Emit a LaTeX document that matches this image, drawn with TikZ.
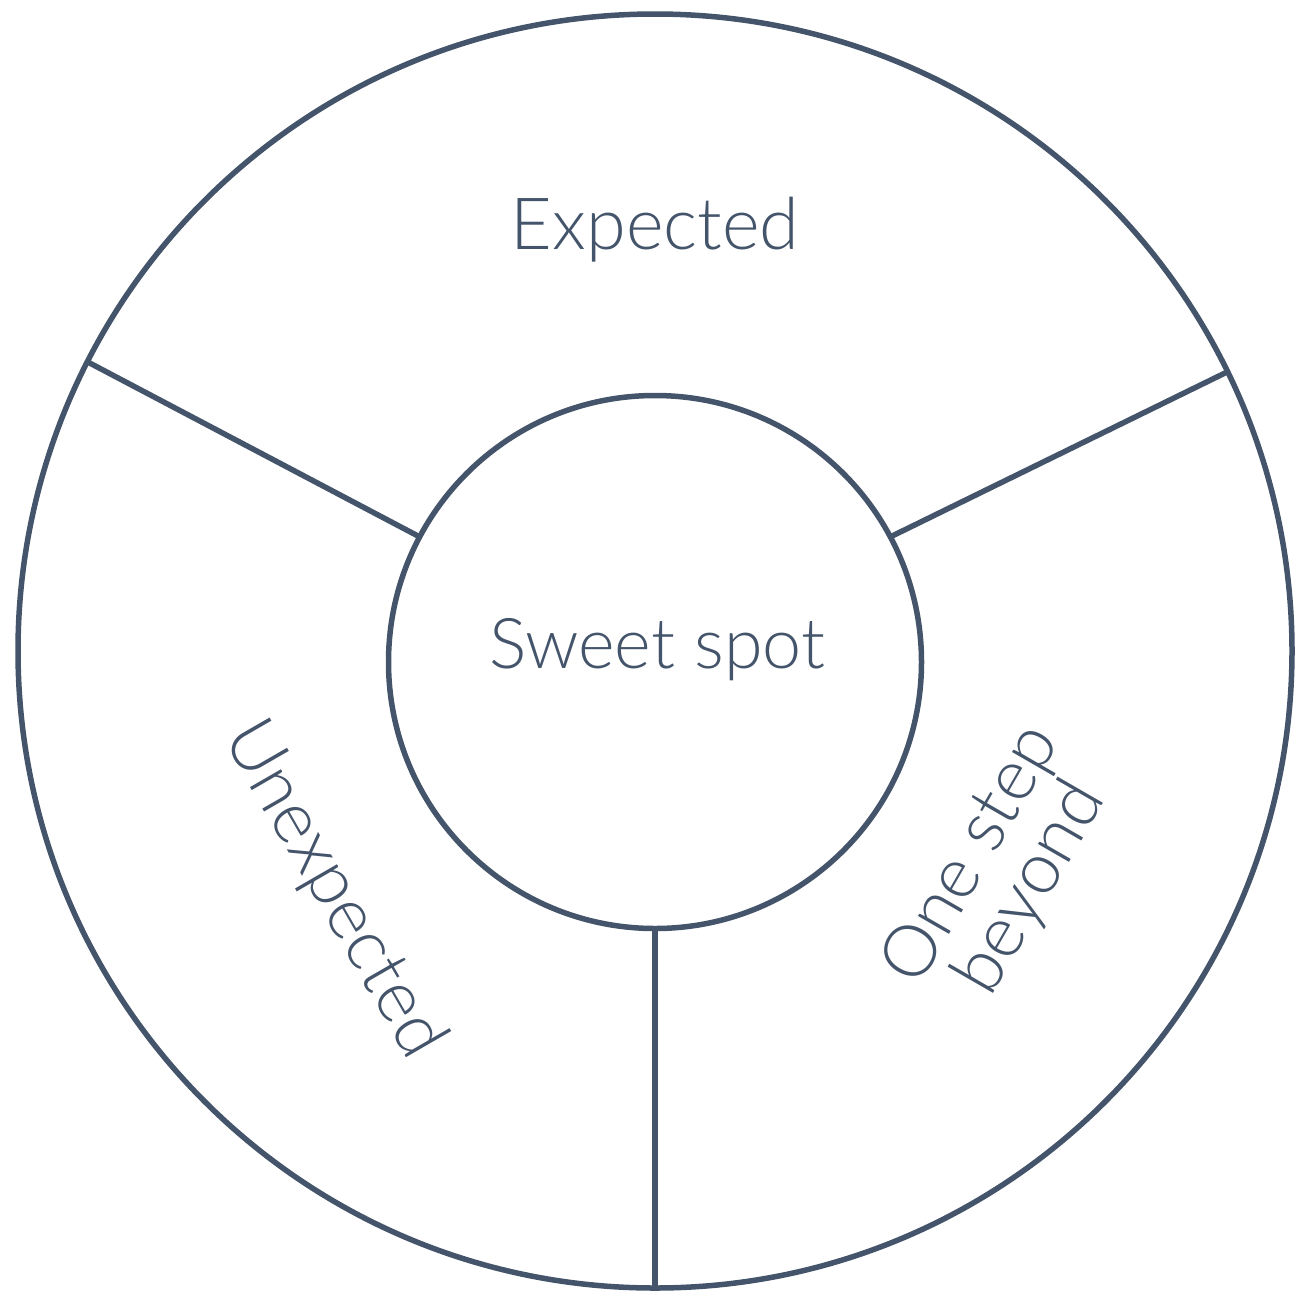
\documentclass[tikz,border=0pt]{standalone}
\usepackage{fontspec}
\setmainfont{Lato}[UprightFont=* Light]
\definecolor{ink}{RGB}{68,84,106}
\begin{document}
\begin{tikzpicture}[x=1pt,y=-1pt,
  ring/.style={circle,draw=ink,line width=5.5pt,inner sep=0pt,outer sep=0pt},
  divider/.style={draw=ink,line width=5.5pt},
  lbl/.style={text=ink,font=\fontsize{72}{68}\selectfont,inner sep=0pt,align=center}]
\useasboundingbox (0,0) rectangle (1312,1307);
\node[ring,minimum size=1274pt] (outer) at (655,651) {};
\node[ring,minimum size=533pt] (inner) at (655,662) {};
\draw[divider] (inner.152.2) -- (outer.153.3);
\draw[divider] (inner.28) -- (outer.26.5);
\draw[divider] (inner.south) -- (outer.south);
\node[lbl] (expected) at (655,230) {Expected};
\node[lbl,font=\fontsize{70}{68}\selectfont] (sweet) at (657,650) {Sweet spot};
\node[lbl,rotate=-60] (unexpected) at (333,890) {Unexpected};
\node[lbl,rotate=60] (beyond) at (1002,872) {One step\\beyond};
\end{tikzpicture}
\end{document}
